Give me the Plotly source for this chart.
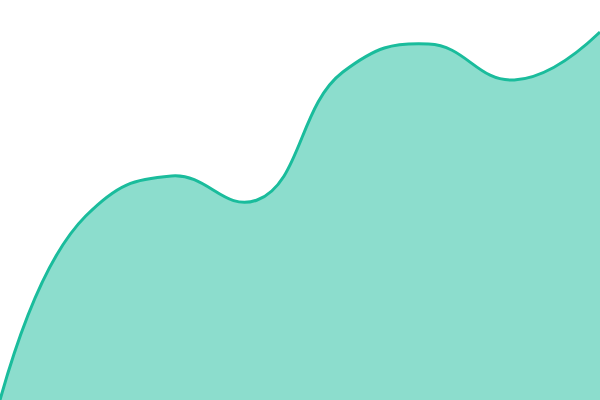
import plotly.graph_objects as go

# evenly spaced samples across the chart, height as % of the plot
steps = [0, 1, 2, 3, 4, 5, 6, 7]
values = [0, 46, 56, 50, 82, 89, 80, 92]

fig = go.Figure()
fig.add_trace(go.Scatter(
    x=steps,
    y=values,
    mode="lines",
    line=dict(color="#1abc9c", width=3, shape="spline", smoothing=1.3),
    fill="tozeroy",
    fillcolor="rgba(26,188,156,0.5)",
    hoverinfo="skip",
))
fig.update_layout(
    width=600,
    height=400,
    margin=dict(l=0, r=0, t=0, b=0),
    paper_bgcolor="white",
    plot_bgcolor="white",
    showlegend=False,
    xaxis=dict(visible=False, range=[0, 7], fixedrange=True),
    yaxis=dict(visible=False, range=[0, 100], fixedrange=True),
)
# drop the default page margin so the chart sits flush in the window
fig.write_html(
    "out.html",
    config={"displayModeBar": False},
    post_script="document.body.style.margin='0';",
)
